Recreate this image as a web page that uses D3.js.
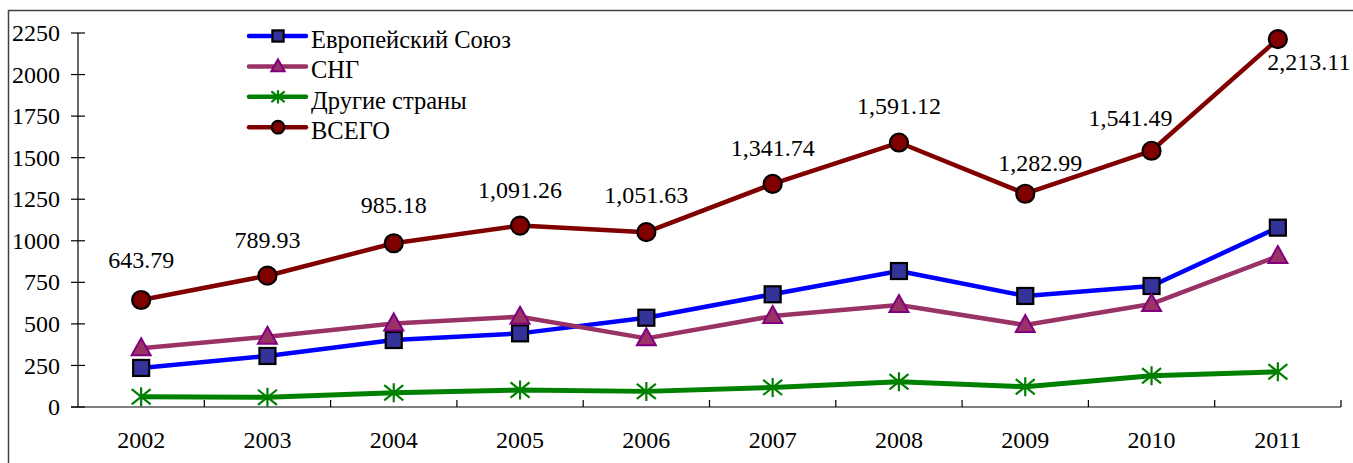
<!DOCTYPE html>
<html lang="ru">
<head>
    <meta charset="utf-8">
    <title>Линейный график</title>
    <script src="https://d3js.org/d3.v7.min.js"></script>
    <style>
        body { margin: 0; background: #fff; }
        text { font-family: "Liberation Serif", "Times New Roman", serif; fill: #000; }
    </style>
</head>
<body>
<svg width="1353" height="463"></svg>
<script>
    // данные
    var years = ["2002","2003","2004","2005","2006","2007","2008","2009","2010","2011"];
    var seriesNames = ["Европейский Союз","СНГ","Другие страны","ВСЕГО"];
    var euValues    = [235, 307, 403, 443, 537, 678, 818, 668, 728, 1079];
    var cisValues   = [353, 423, 503, 543, 413, 547, 614, 493, 620, 908];
    var otherValues = [62, 58, 86, 102, 94, 118, 152, 122, 188, 212];
    var totalValues = [643.79, 789.93, 985.18, 1091.26, 1051.63, 1341.74, 1591.12, 1282.99, 1541.49, 2213.11];
    var yTicks = [0, 250, 500, 750, 1000, 1250, 1500, 1750, 2000, 2250];

    // сдвиги подписей ВСЕГО (как перетащены в оригинале)
    var labelDx = [0, 0, 0, 0, 0, 0, 0, 15, -21, 31];
    var labelDy = [-32, -28, -30, -28, -29, -28, -29, -23, -25, 31];

    var svg = d3.select("svg");
    var marge = {top:33, bottom:56, left:78, right:12};
    var width = 1353, height = 463;
    var fontSize = "24px";

    // рамка
    svg.append("rect")
        .attr("x", 8.5).attr("y", 10.5)
        .attr("width", 1400).attr("height", 500)
        .attr("fill", "none")
        .attr("stroke", "#404040")
        .attr("stroke-width", 1.5);

    var x0 = marge.left, x1 = width - marge.right;
    var yBottom = height - marge.bottom;

    var xScale = d3.scaleBand()
        .domain(years)
        .range([x0, x1]);

    var yScale = d3.scaleLinear()
        .domain([0, 2250])
        .range([yBottom, marge.top]);

    var cx = function(i){ return xScale(years[i]) + xScale.bandwidth()/2; };

    // ось Y
    var yAxis = svg.append("g");
    yAxis.append("line")
        .attr("x1", x0).attr("x2", x0)
        .attr("y1", yScale(2250)).attr("y2", yBottom)
        .attr("stroke", "#000").attr("stroke-width", 1.2);
    yAxis.selectAll(".yt")
        .data(yTicks)
        .enter()
        .append("line")
        .attr("x1", x0 - 7).attr("x2", x0 + 7)
        .attr("y1", function(d){ return yScale(d); })
        .attr("y2", function(d){ return yScale(d); })
        .attr("stroke", "#000").attr("stroke-width", 1.2);
    yAxis.selectAll(".yl")
        .data(yTicks)
        .enter()
        .append("text")
        .attr("x", 60)
        .attr("y", function(d){ return yScale(d); })
        .attr("dy", "0.34em")
        .attr("text-anchor", "end")
        .style("font-size", fontSize)
        .text(function(d){ return d; });

    // ось X
    var xAxis = svg.append("g");
    xAxis.append("line")
        .attr("x1", x0 - 7).attr("x2", x1)
        .attr("y1", yBottom).attr("y2", yBottom)
        .attr("stroke", "#000").attr("stroke-width", 1.2);
    xAxis.selectAll(".xt")
        .data(years)
        .enter()
        .append("line")
        .attr("x1", function(d){ return xScale(d) + xScale.bandwidth(); })
        .attr("x2", function(d){ return xScale(d) + xScale.bandwidth(); })
        .attr("y1", yBottom).attr("y2", yBottom - 7)
        .attr("stroke", "#000").attr("stroke-width", 1.2);
    xAxis.selectAll(".xl")
        .data(years)
        .enter()
        .append("text")
        .attr("x", function(d){ return xScale(d) + xScale.bandwidth()/2; })
        .attr("y", yBottom + 41)
        .attr("text-anchor", "middle")
        .style("font-size", fontSize)
        .text(function(d){ return d; });

    var series = [
        {name: seriesNames[0], values: euValues,    color: "#0000ff", marker: "square"},
        {name: seriesNames[1], values: cisValues,   color: "#993366", marker: "triangle"},
        {name: seriesNames[2], values: otherValues, color: "#008000", marker: "star"},
        {name: seriesNames[3], values: totalValues, color: "#800000", marker: "circle"}
    ];

    // k - масштаб маркера (в легенде маркеры мельче)
    function drawMarker(g, type, x, y, k){
        if (type === "square") {
            var h = 8 * k;
            g.append("rect")
                .attr("x", x - h).attr("y", y - h)
                .attr("width", 2*h).attr("height", 2*h)
                .attr("fill", "#333399")
                .attr("stroke", "#000").attr("stroke-width", 2.2);
        } else if (type === "triangle") {
            g.append("path")
                .attr("d", "M" + x + "," + (y - 10*k) + "L" + (x + 9.5*k) + "," + (y + 7*k) + "L" + (x - 9.5*k) + "," + (y + 7*k) + "Z")
                .attr("fill", "#993366")
                .attr("stroke", "#800080").attr("stroke-width", 2);
        } else if (type === "star") {
            var r = 9.5 * k;
            var p = "M" + x + "," + (y - r) + "L" + x + "," + (y + r) +
                "M" + (x - r) + "," + (y - r*0.8) + "L" + (x + r) + "," + (y + r*0.8) +
                "M" + (x - r) + "," + (y + r*0.8) + "L" + (x + r) + "," + (y - r*0.8);
            g.append("path")
                .attr("d", p)
                .attr("fill", "none")
                .attr("stroke", "#008000").attr("stroke-width", 2.2);
        } else {
            g.append("circle")
                .attr("cx", x).attr("cy", y).attr("r", 9 * k)
                .attr("fill", "#800000")
                .attr("stroke", "#000").attr("stroke-width", 2.2);
        }
    }

    var line = d3.line()
        .x(function(d, i){ return cx(i); })
        .y(function(d){ return yScale(d); });

    var plot = svg.append("g");
    series.forEach(function(s){
        plot.append("path")
            .attr("d", line(s.values))
            .attr("fill", "none")
            .attr("stroke", s.color)
            .attr("stroke-width", s.marker === "star" ? 5 : 4.5)
            .attr("stroke-linejoin", "round");
    });
    series.forEach(function(s){
        var mg = plot.append("g");
        s.values.forEach(function(v, i){
            drawMarker(mg, s.marker, cx(i), yScale(v), 1);
        });
    });

    // подписи ВСЕГО
    plot.selectAll(".lbl")
        .data(totalValues)
        .enter()
        .append("text")
        .attr("x", function(d, i){ return cx(i) + labelDx[i]; })
        .attr("y", function(d, i){ return yScale(d) + labelDy[i]; })
        .attr("text-anchor", "middle")
        .style("font-size", fontSize)
        .text(function(d){ return d3.format(",.2f")(d); });

    // легенда
    var legend = svg.append("g");
    series.forEach(function(s, i){
        var ly = 36 + i * 30.4;
        legend.append("line")
            .attr("x1", 249).attr("x2", 306)
            .attr("y1", ly).attr("y2", ly)
            .attr("stroke", s.color)
            .attr("stroke-width", 4.5)
            .attr("stroke-linecap", "round");
        drawMarker(legend, s.marker, 278, ly, 0.7);
        legend.append("text")
            .attr("x", 311).attr("y", ly + 12)
            .style("font-size", "24.5px")
            .text(s.name);
    });
</script>
</body>
</html>
